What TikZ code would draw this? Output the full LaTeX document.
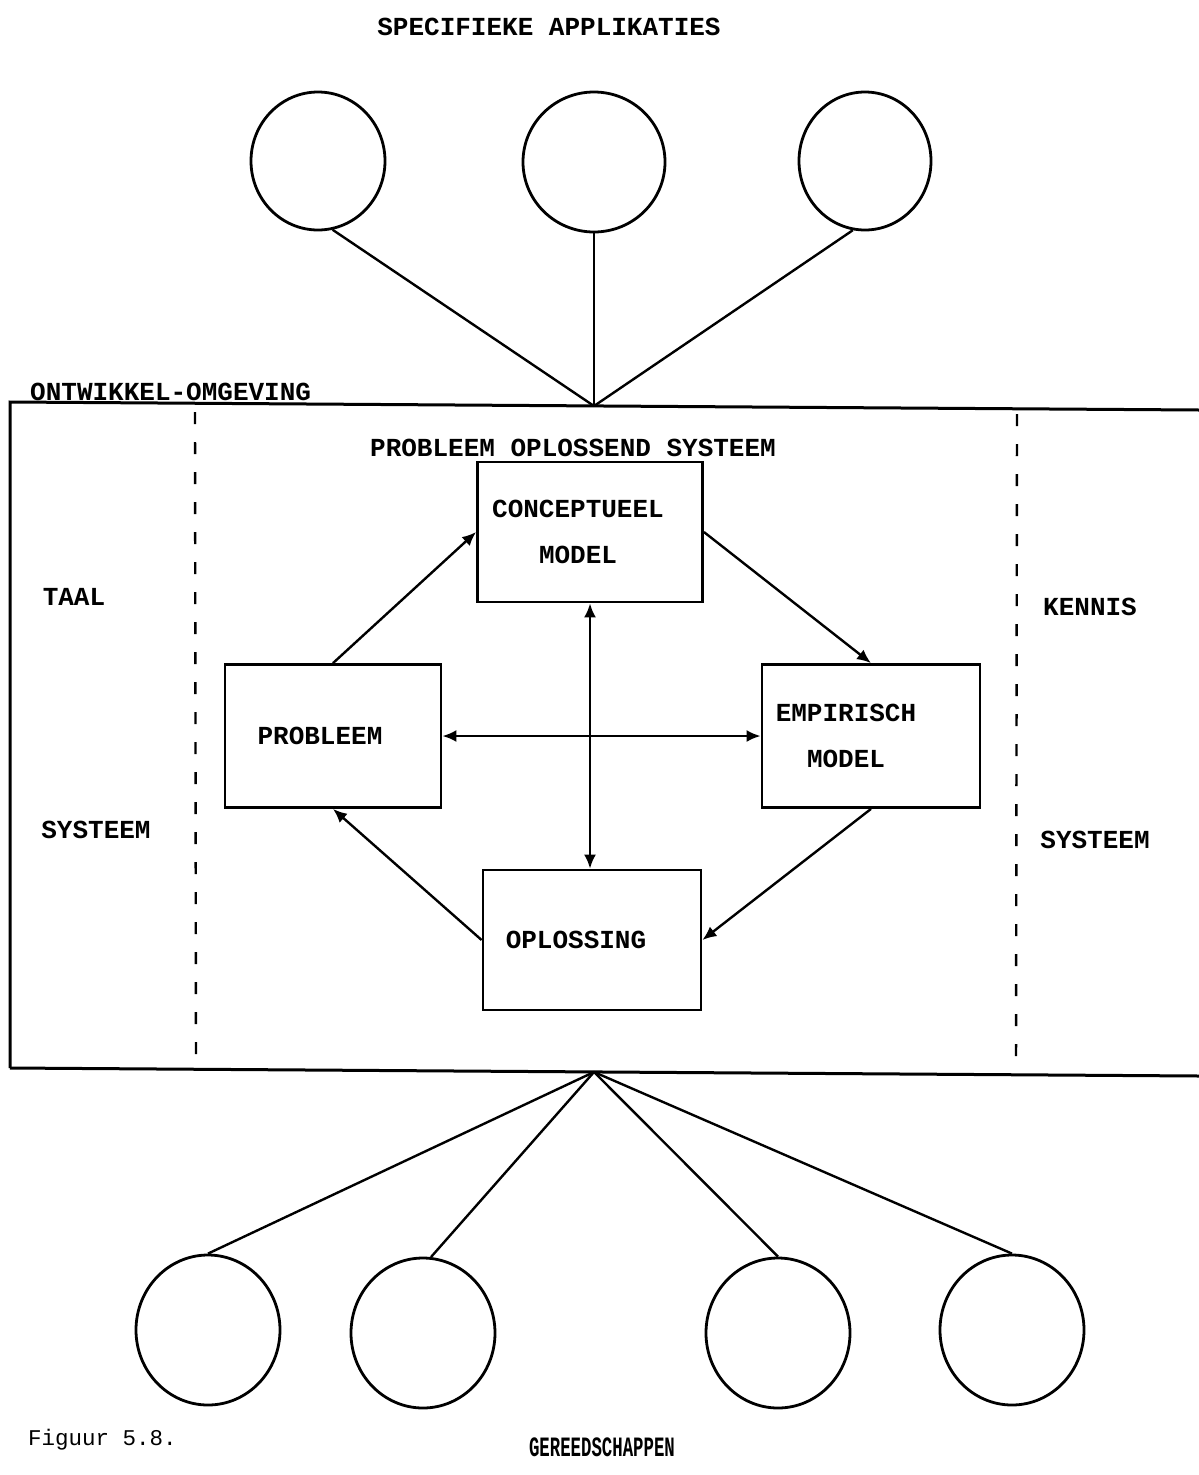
\documentclass[tikz,border=0pt]{standalone}
\usepackage{fontspec}
\setmonofont{Liberation Mono}
\usetikzlibrary{shapes.geometric,arrows.meta}
\tikzset{
  lbl/.style={font=\ttfamily\bfseries\fontsize{26}{46}\selectfont, inner sep=0pt, align=center},
  stagebox/.style={draw, line width=2.8pt, minimum width=#1, inner sep=0pt},
  bubble/.style={draw, ellipse, line width=2.8pt, inner sep=0pt},
  conn/.style={line width=2.4pt},
  arr/.style={line width=2.4pt, -{Latex[length=14pt,width=12pt]}},
  darr/.style={line width=2.4pt, {Latex[length=14pt,width=12pt]}-{Latex[length=14pt,width=12pt]}},
  frame/.style={line width=3pt},
  divider/.style={line width=2.4pt, dash pattern=on 12pt off 18pt}
}
\begin{document}
\begin{tikzpicture}[x=1pt,y=-1pt]
\useasboundingbox (0,0) rectangle (1199,1475);

% title
\node[lbl] (tspec) at (549,27) {SPECIFIEKE APPLIKATIES};

% top circles
\node[bubble, minimum width=134pt, minimum height=138pt] (a1) at (318,161) {};
\node[bubble, minimum width=142pt, minimum height=140pt] (a2) at (594,162) {};
\node[bubble, minimum width=132pt, minimum height=138pt] (a3) at (865,161) {};

% outer frame
\coordinate (tl) at (10,402);
\coordinate (tr) at (1199,410);
\coordinate (bl) at (10,1068);
\coordinate (br) at (1199,1076);
\coordinate (topapex) at (594,406);
\coordinate (botapex) at (594,1072);
\draw[frame] (bl) -- (tl) -- (tr);
\draw[frame] (bl) -- (br);

\node[lbl, anchor=base west] (tont) at (30,400) {ONTWIKKEL-OMGEVING};

\draw[conn] (a1.-78) -- (topapex);
\draw[conn] (a2.south) -- (topapex);
\draw[conn] (a3.-100) -- (topapex);

% dashed dividers
\coordinate (d1t) at (195,412);
\coordinate (d1b) at (196,1066);
\coordinate (d2t) at (1017,414);
\coordinate (d2b) at (1016,1072);
\draw[divider] (d1t) -- (d1b);
\draw[divider] (d2t) -- (d2b);

% side labels
\node[lbl] (ttaal) at (74,597) {TAAL};
\node[lbl] (tsys1) at (96,830) {SYSTEEM};
\node[lbl] (tkennis) at (1090,607) {KENNIS};
\node[lbl] (tsys2) at (1095,840) {SYSTEEM};

\node[lbl] (tpos) at (573,448) {PROBLEEM OPLOSSEND SYSTEEM};

% stage boxes
\node[stagebox=225pt, minimum height=140pt,
      label={[lbl, xshift=-12pt]center:{CONCEPTUEEL\\MODEL}}] (conc) at (590,532) {};
\node[stagebox=216pt, minimum height=143pt,
      label={[lbl, xshift=-13pt]center:PROBLEEM}] (prob) at (333,736) {};
\node[stagebox=218pt, minimum height=143pt,
      label={[lbl, xshift=-25pt]center:{EMPIRISCH\\MODEL}}] (emp) at (871,736) {};
\node[stagebox=218pt, minimum height=140pt,
      label={[lbl, xshift=-16pt]center:OPLOSSING}] (opl) at (592,940) {};

% arrows
\draw[arr] (prob.north) -- (conc.west);
\draw[arr] (conc.east) -- (emp.north);
\draw[arr] (emp.south) -- (opl.east);
\draw[arr] (opl.west) -- (prob.south);
\draw[darr] (prob.east) -- (emp.west);
\draw[darr] (conc.south) -- (conc.south |- opl.north);

% bottom circles
\node[bubble, minimum width=144pt, minimum height=150pt] (g1) at (208,1330) {};
\node[bubble, minimum width=144pt, minimum height=150pt] (g2) at (423,1333) {};
\node[bubble, minimum width=144pt, minimum height=150pt] (g3) at (778,1333) {};
\node[bubble, minimum width=144pt, minimum height=150pt] (g4) at (1012,1330) {};

\draw[conn] (botapex) -- (g1.north);
\draw[conn] (botapex) -- (g2.84);
\draw[conn] (botapex) -- (g3.north);
\draw[conn] (botapex) -- (g4.north);

% captions
\node[font=\ttfamily\fontsize{22.5}{26}\selectfont, inner sep=0pt, anchor=west] (tfig) at (28,1440) {Figuur 5.8.};
\node[font=\ttfamily\bfseries\fontsize{28}{34}\selectfont, inner sep=0pt] (tgereed) at (602,1447) {\scalebox{0.62}[1]{GEREEDSCHAPPEN}};
\end{tikzpicture}
\end{document}
